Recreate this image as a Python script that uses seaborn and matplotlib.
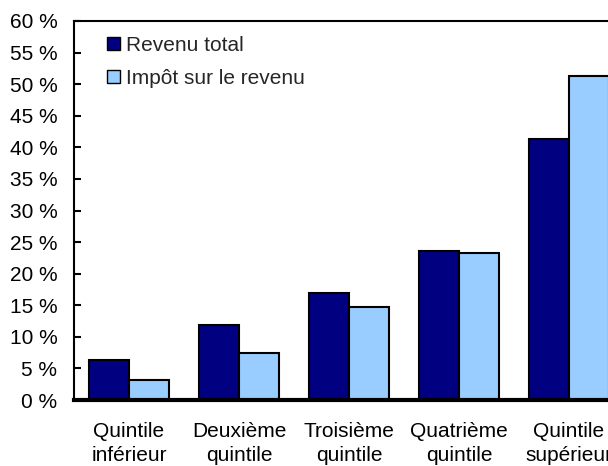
import pandas as pd
import matplotlib
matplotlib.use("Agg")
import matplotlib.pyplot as plt
import matplotlib.ticker as ticker
from matplotlib.patches import Patch
import seaborn as sns

categories = ["Quintile\ninférieur", "Deuxième\nquintile", "Troisième\nquintile",
              "Quatrième\nquintile", "Quintile\nsupérieur"]
revenu_total = [6.3, 11.9, 17.0, 23.6, 41.3]
impot_revenu = [3.1, 7.5, 14.8, 23.3, 51.3]
series = ["Revenu total", "Impôt sur le revenu"]
COLORS = ["#000080", "#99CCFF"]

sns.set_theme(style="white")
plt.rcParams["font.family"] = ["Liberation Sans", "DejaVu Sans"]

df = pd.DataFrame({
    "cat": categories * 2,
    "val": revenu_total + impot_revenu,
    "serie": [series[0]] * 5 + [series[1]] * 5,
})

fig = plt.figure(figsize=(6.08, 4.66), dpi=100)
ax = fig.add_axes([74 / 608, 1 - 400 / 466, 550 / 608, 379 / 466])

sns.barplot(data=df, x="cat", y="val", hue="serie", palette=COLORS, width=0.73,
            edgecolor="black", linewidth=1.5, ax=ax, legend=False, saturation=1)

ax.set_xlim(-0.5, 4.5)
ax.set_ylim(0, 60)
ax.yaxis.set_major_locator(ticker.MultipleLocator(5))
ax.yaxis.set_major_formatter(ticker.FuncFormatter(lambda v, pos: f"{int(v)} %"))
ax.set_xlabel("")
ax.set_ylabel("")

for side in ["left", "top", "right"]:
    ax.spines[side].set_color("black")
    ax.spines[side].set_linewidth(1.5)
ax.spines["bottom"].set_color("black")
ax.spines["bottom"].set_linewidth(3)

ax.tick_params(axis="y", direction="in", length=5, width=1.5, color="black",
               labelsize=15, pad=12, left=True, labelcolor="black")
ax.tick_params(axis="x", length=0, labelsize=15, pad=16, labelcolor="black")
for lbl in ax.get_xticklabels():
    lbl.set_linespacing(1.3)

handles = [Patch(facecolor=c, edgecolor="black", linewidth=1) for c in COLORS]
ax.legend(handles, series, loc="upper left", bbox_to_anchor=(0.06, 0.96),
          frameon=False, fontsize=15, handlelength=0.6, handleheight=0.6,
          handletextpad=0.3, labelspacing=0.65, borderaxespad=0, borderpad=0)

fig.savefig("out.png", dpi=100)
